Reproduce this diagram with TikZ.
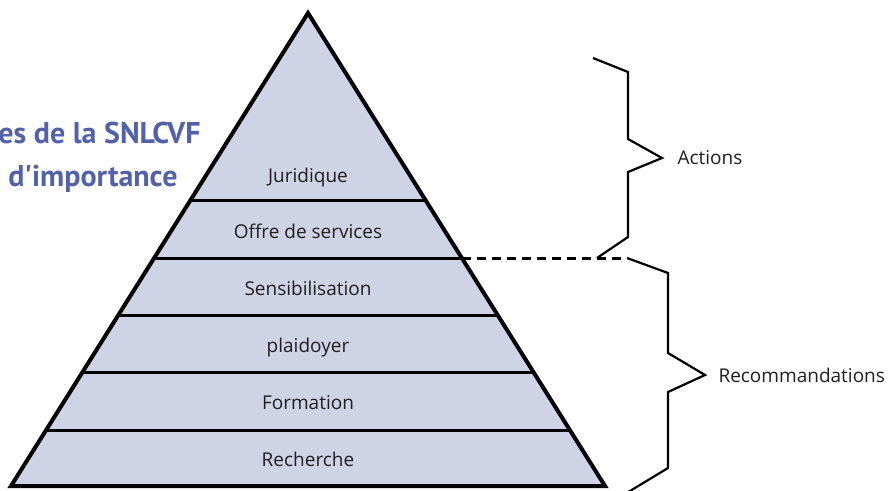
\documentclass[tikz,border=0pt]{standalone}
\usepackage{fontspec}
\setmainfont{Open Sans}
\newfontfamily\titlefont{PT Sans}
\usetikzlibrary{positioning}
\definecolor{bandfill}{RGB}{206,211,230}
\definecolor{titleblue}{RGB}{83,97,170}
\begin{document}
\begin{tikzpicture}[x=1pt,y=-1pt,
    level/.style={font=\fontsize{19}{22}\selectfont,text=black!88,anchor=base},
    side/.style={font=\fontsize{19}{22}\selectfont,text=black!88},
    heading/.style={font=\titlefont\bfseries\fontsize{30}{34}\selectfont,text=titleblue,anchor=base east},
    brace/.style={line width=2.2pt,line join=miter}]
  \useasboundingbox (0,0) rectangle (893,490);
  \node[heading] (head1) at (204,143) {es de la SNLCVF};
  \node[heading] (head2) at (181,186) {d'importance};
  \coordinate (T) at (308,13);
  \coordinate (L) at (11,486);
  \coordinate (R) at (605,486);
  \fill[bandfill] (T) -- (L) -- (R) -- cycle;
  \begin{scope}
    \clip (T) -- (L) -- (R) -- cycle;
    \foreach \y in {200,258,315,372,430}
      \draw[line width=3pt] (0,\y) -- (893,\y);
  \end{scope}
  \coordinate (dashA) at (462,258);
  \coordinate (dashB) at (627,258);
  \draw[line width=3pt,dash pattern=on 9pt off 6pt] (dashA) -- (dashB);
  \draw[line width=4pt,line join=miter] (T) -- (L) -- (R) -- cycle;
  \foreach \y/\t/\n in {182/Juridique/jur,238/Offre de services/off,295/Sensibilisation/sen,
      352/plaidoyer/pla,409/Formation/for,466/Recherche/rec}
    \node[level] (\n) at (308,\y) {\t};
  \draw[brace] (593,58) -- (628,72) -- (628,139) -- (662,158) coordinate (tipA)
    -- (628,172) -- (628,237) -- (597,258);
  \draw[brace] (dashB) -- (668,273) -- (668,353) -- (705,375) coordinate (tipR)
    -- (668,392) -- (668,468) -- (625,494);
  \node[side,right=12pt of tipA] (act) {Actions};
  \node[side,right=10pt of tipR] (reco) {Recommandations};
\end{tikzpicture}
\end{document}
